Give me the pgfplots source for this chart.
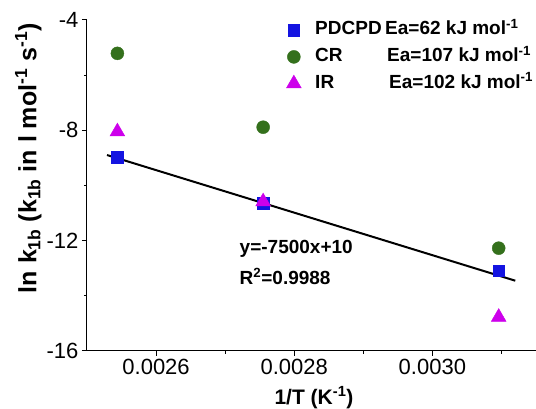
\documentclass[border=0pt]{standalone}
\usepackage{pgfplots}
\pgfplotsset{compat=1.18}
\usepackage{fontspec}
\setmainfont{Liberation Sans}
\definecolor{sqblue}{RGB}{20,20,225}
\definecolor{cirgreen}{RGB}{52,112,28}
\definecolor{trimag}{RGB}{205,0,235}
\begin{document}
\begin{tikzpicture}
\begin{axis}[
  scale only axis,
  width=449pt, height=330.7pt,
  xmin=0.0025, xmax=0.00315,
  ymin=-16, ymax=-4,
  axis lines*=left,
  axis line style={line width=1pt},
  tick align=outside,
  major tick length=5pt, minor tick length=3pt,
  every tick/.style={black, line width=1pt},
  scaled x ticks=false,
  xtick={0.0026,0.0028,0.0030},
  xticklabels={0.0026,0.0028,0.0030},
  minor xtick={0.0027,0.0029,0.0031},
  ytick={-4,-8,-12,-16},
  yticklabels={-4,-8,-12,-16},
  minor ytick={-6,-10,-14},
  ticklabel style={font=\fontsize{22}{22}\selectfont},
  xlabel={\textbf{1/T (K\textsuperscript{-1})}},
  ylabel={\textbf{ln k\textsubscript{1b} (k\textsubscript{1b} in l mol\textsuperscript{-1} s\textsuperscript{-1})}},
  xlabel style={font=\fontsize{21}{21}\selectfont, at={(axis description cs:0.5056,-0.162)}, anchor=base},
  ylabel style={font=\fontsize{25}{25}\selectfont, at={(axis description cs:-0.1307,0.582)}, anchor=center},
  clip=false,
  legend cell align=left,
  legend style={at={(axis description cs:0.4372,1.0076)}, anchor=north west,
    draw=none, fill=none, font=\fontsize{19}{19}\selectfont\bfseries,
    row sep=5.7pt,
    nodes={inner sep=1pt, text height=14pt, text depth=5pt}},
]
\addplot[only marks, mark=square*, mark size=5.8pt, color=sqblue] coordinates {
  (0.002544,-8.98) (0.002755,-10.65) (0.003096,-13.10)};
\addlegendentry{\hspace*{13pt}\makebox[70pt][l]{PDCPD}Ea=62 kJ mol\textsuperscript{-1}}
\addplot[only marks, mark=*, mark size=6.5pt, color=cirgreen] coordinates {
  (0.002544,-5.21) (0.002755,-7.89) (0.003096,-12.28)};
\addlegendentry{\hspace*{13pt}\makebox[72pt][l]{CR}Ea=107 kJ mol\textsuperscript{-1}}
\addplot[only marks, mark=triangle*, mark size=8.5pt, color=trimag] coordinates {
  (0.002544,-8.05) (0.002755,-10.59) (0.003096,-14.78)};
\addlegendentry{\hspace*{13pt}\makebox[74pt][l]{IR}Ea=102 kJ mol\textsuperscript{-1}}
\addplot[black, line width=2pt, forget plot] coordinates {
  (0.002529,-8.90) (0.003120,-13.46)};
\node[anchor=west, font=\fontsize{19}{19}\selectfont\bfseries] at (axis cs:0.002716,-12.32) {y=-7500x+10};
\node[anchor=west, font=\fontsize{19}{19}\selectfont\bfseries] at (axis cs:0.002716,-13.31) {R\textsuperscript{2}=0.9988};
\end{axis}
\pgfresetboundingbox
\path (-87pt,-58.3pt) rectangle (449pt,350.7pt);
\end{tikzpicture}
\end{document}
